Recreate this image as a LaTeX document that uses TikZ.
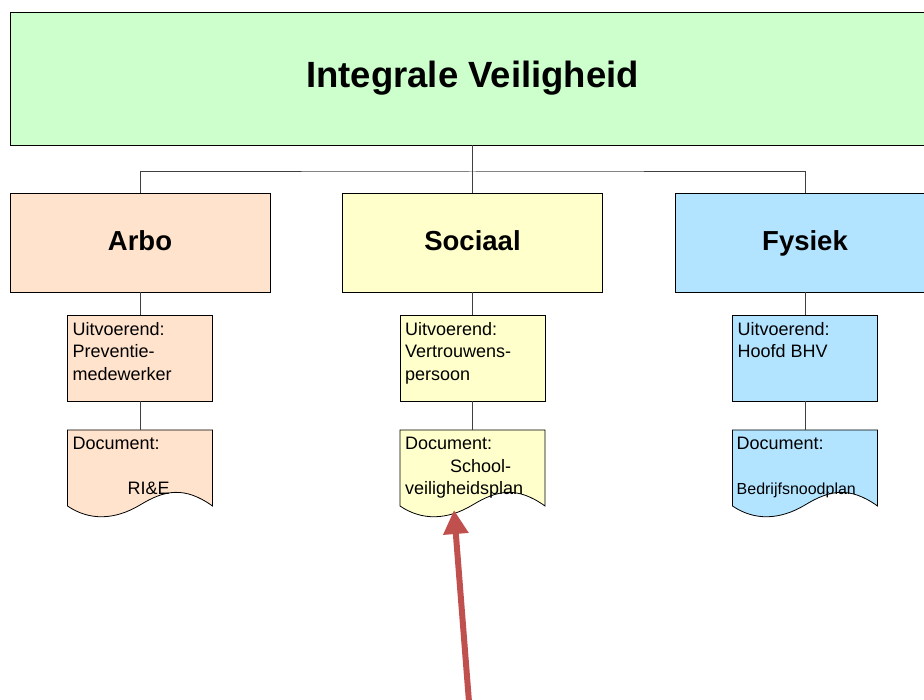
\documentclass[tikz,border=0pt]{standalone}
\usepackage{fontspec}
\setmainfont{Liberation Sans}
\usetikzlibrary{arrows.meta, calc}
\usetikzlibrary{positioning}
\usepackage{xcolor}

\definecolor{topgreen}{RGB}{204,255,204}
\definecolor{arbocol}{RGB}{255,227,204}
\definecolor{sociaalcol}{RGB}{255,255,204}
\definecolor{fysiekcol}{RGB}{179,228,255}
\definecolor{arrowred}{RGB}{192,80,77}
\definecolor{linegray}{RGB}{64,64,64}

% golvende onderkant van een documentvak
\newcommand{\docwave}[2]{%
  \draw[fill=#2, line width=0.8pt] (#1.north west) -- (#1.north east) -- (#1.south east)
    .. controls ($(#1.south east)+(-28,-20)$) and ($(#1.south east)+(-48,-16)$) .. ($(#1.south)+(0,-1)$)
    .. controls ($(#1.south)+(-25,14)$) and ($(#1.south west)+(22,15)$) .. (#1.south west) -- cycle;}

\tikzset{
  topbox/.style={draw, line width=0.8pt, fill=topgreen, outer sep=0pt, minimum width=925pt, minimum height=133pt,
    font=\fontsize{36.5}{40}\selectfont\bfseries},
  areabox/.style={draw, line width=0.8pt, outer sep=0pt, minimum width=260pt, minimum height=99pt,
    text height=21pt, text depth=5pt, font=\fontsize{27.5}{32}\selectfont\bfseries},
  subbox/.style={draw, line width=0.8pt, outer sep=0pt, minimum width=145pt, minimum height=86pt},
  docbox/.style={outer sep=0pt, inner sep=0pt, minimum width=145pt, minimum height=76pt, anchor=north},
  txt/.style={anchor=north west, inner sep=0pt, align=left},
  conn/.style={draw=linegray, line width=1pt}
}

\begin{document}
\begin{tikzpicture}[x=1pt, y=-1pt, every node/.style={font=\fontsize{18}{22.5}\selectfont}]
\useasboundingbox (0,0) rectangle (924,700);

\node[topbox] (top) at (472.5,78.5) {Integrale Veiligheid};

\node[areabox, fill=arbocol] (arbo) at (140,242.5) {Arbo};
\node[areabox, fill=sociaalcol] (sociaal) at (472.5,242.5) {Sociaal};
\node[areabox, fill=fysiekcol] (fysiek) at (805,242.5) {Fysiek};

\node[subbox, fill=arbocol] (arbo-u) at (140,358) {};
\node[subbox, fill=sociaalcol] (sociaal-u) at (472.5,358) {};
\node[subbox, fill=fysiekcol] (fysiek-u) at (805,358) {};

\node[docbox] (arbo-d) at (140,430) {};
\node[docbox] (sociaal-d) at (472.5,430) {};
\node[docbox] (fysiek-d) at (805,430) {};
\docwave{arbo-d}{arbocol}
\docwave{sociaal-d}{sociaalcol}
\docwave{fysiek-d}{fysiekcol}

% verbindingen
\coordinate (split) at ($(top.south)+(0,27)$);
\draw[conn] (top.south) -- (split);
\draw[conn] (arbo.north) |- (split) -| (fysiek.north);
\draw[conn] (split) -| (sociaal.north);
\foreach \n in {arbo, sociaal, fysiek} {
  \draw[conn] (\n.south) -- (\n-u.north);
  \draw[conn] (\n-u.south) -- (\n-d.north);
}

% teksten
\node[txt] (arbo-ut) at ($(arbo-u.north west)+(5,7)$) {Uitvoerend:\\Preventie-\\medewerker};
\node[txt] (sociaal-ut) at ($(sociaal-u.north west)+(5,7)$) {Uitvoerend:\\Vertrouwens-\\persoon};
\node[txt] (fysiek-ut) at ($(fysiek-u.north west)+(5,7)$) {Uitvoerend:\\Hoofd BHV};

\node[txt] (arbo-dt) at ($(arbo-d.north west)+(5,7)$) {Document:\\[22pt]\hspace*{55pt}RI\&E};
\node[txt] (sociaal-dt) at ($(sociaal-d.north west)+(5,7)$) {Document:\\\hspace*{45pt}School-\\veiligheidsplan};
\node[txt] (fysiek-dt) at ($(fysiek-d.north west)+(4,7)$) {Document:\\[22pt]{\fontsize{16}{20}\selectfont Bedrijfsnoodplan}};

% pijl
\coordinate (arrow-tail) at (469,702);
\coordinate (arrow-tip) at (454,510);
\draw[arrowred, line width=6pt, -{Triangle[width=24pt,length=24pt]}] (arrow-tail) -- (arrow-tip);
\end{tikzpicture}
\end{document}
